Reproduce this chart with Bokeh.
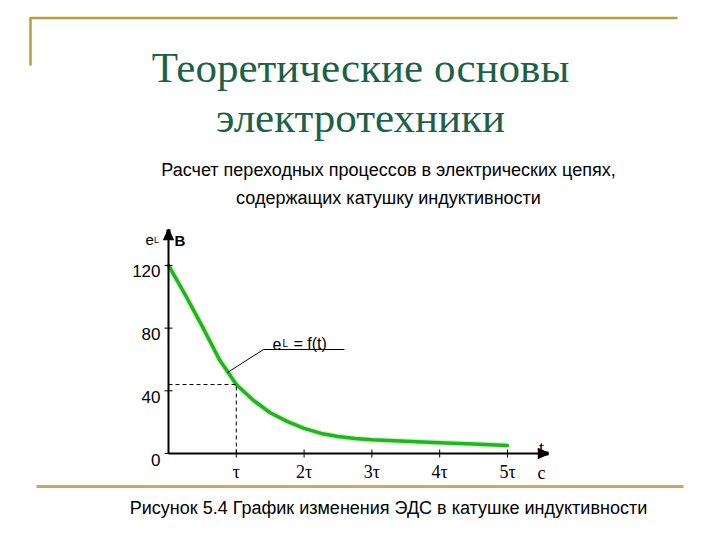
from bokeh.plotting import figure
from bokeh.models import Range1d
from bokeh.core.properties import value
from bokeh.embed import file_html
from bokeh.resources import INLINE

# ---------------- data ----------------
title_lines = ["Теоретические основы", "электротехники"]
subtitle_lines = ["Расчет переходных процессов в электрических цепях,",
                  "содержащих катушку индуктивности"]
caption = "Рисунок 5.4 График изменения ЭДС в катушке индуктивности"

# time in units of tau, EMF e_L in volts
t_tau = [0, 0.25, 0.5, 0.75, 1.0, 1.25, 1.5, 1.75, 2.0, 2.25, 2.5, 2.75, 3.0, 3.5, 4.0, 4.5, 5.0]
e_volts = [120, 101, 81, 60, 44, 34, 26, 20.5, 16, 12.8, 10.8, 9.6, 8.7, 7.8, 6.8, 6.0, 5.1]

y_ticks = [0, 40, 80, 120]
y_tick_labels = ["0", "40", "80", "120"]
x_ticks = [1, 2, 3, 4, 5]
x_tick_labels = ["τ", "2τ", "3τ", "4τ", "5τ"]

# ---------------- layout helpers (page pixels -> data units) ----------------
W, H = 704, 524
OX, OY = 0, 0
PX_T0, XS = 168.0, 67.8     # page x of t=0, pixels per tau
PY_E0, YS = 453.0, 1.567    # page y of e=0, pixels per volt


def X(px):
    return (px - PX_T0) / XS


def Y(py):
    return (PY_E0 - py) / YS


p = figure(width=W, height=H,
           x_range=Range1d(X(OX), X(OX + W)), y_range=Range1d(Y(OY + H), Y(OY)),
           output_backend="svg", toolbar_location=None, min_border=0,
           x_axis_type=None, y_axis_type=None, outline_line_color=None)
p.xgrid.visible = False
p.ygrid.visible = False

SANS = value("Liberation Sans")
SERIF = value("Liberation Serif")

# ---------------- slide decoration ----------------
gold = "#b3a03a"
p.line([X(30), X(677)], [Y(17.5), Y(17.5)], line_color=gold, line_width=2.5)
p.line([X(30), X(30)], [Y(16.5), Y(65)], line_color=gold, line_width=2.5)
p.line([X(36), X(683)], [Y(486), Y(486)], line_color="#c8a862", line_width=3)

p.text(x=[X(360), X(360)], y=[Y(67), Y(117)], text=title_lines,
       text_font=SERIF, text_font_size="43px", text_color="#1b6146",
       text_align="center", text_baseline="alphabetic")
p.text(x=[X(388), X(388)], y=[Y(169), Y(197)], text=subtitle_lines,
       text_font=SANS, text_font_size="18px", text_color="black",
       text_align="center", text_baseline="alphabetic")
p.text(x=[X(388)], y=[Y(507)], text=[caption],
       text_font=SANS, text_font_size="18px", text_color="black",
       text_align="center", text_baseline="alphabetic")

# ---------------- curve ----------------
p.line(t_tau, e_volts, line_color="#9fe28a", line_width=6, line_alpha=0.45, line_join="round")
p.line(t_tau, e_volts, line_color="#1fb51f", line_width=3.5, line_join="round", line_cap="round")

# dashed construction lines at t = tau
e_tau = e_volts[t_tau.index(1.0)]
p.line([0, 1], [e_tau, e_tau], line_color="black", line_width=1, line_dash="4 3")
p.line([1, 1], [0, e_tau], line_color="black", line_width=1, line_dash="4 3")

# ---------------- axes ----------------
x_tip, y_tip = X(548), Y(229)
hl, hw = 10, 4.5   # arrow head length / half width, px
p.line([0, x_tip - hl / XS], [0, 0], line_color="black", line_width=2)
p.line([0, 0], [0, y_tip - hl / YS], line_color="black", line_width=2)
head_xs = [[x_tip, x_tip - hl / XS, x_tip - hl / XS, x_tip],
           [0, -hw / XS, hw / XS, 0]]
head_ys = [[0, hw / YS, -hw / YS, 0],
           [y_tip, y_tip - hl / YS, y_tip - hl / YS, y_tip]]
p.patches(xs=head_xs, ys=head_ys, fill_color="black", line_color="black", line_width=1)
p.multi_line(xs=head_xs, ys=head_ys, line_color="black", line_width=1.5, line_join="miter")
p.multi_line(xs=[[x_tip, x_tip - hl / XS], [0, 0]],
             ys=[[0, 0], [y_tip, y_tip - hl / YS]],
             line_color="black", line_width=4)

ny, nx = len(y_ticks), len(x_ticks)
p.segment(x0=[-4 / XS] * ny, y0=y_ticks, x1=[4 / XS] * ny, y1=y_ticks,
          line_color="black", line_width=1)
p.segment(x0=x_ticks, y0=[-4 / YS] * nx, x1=x_ticks, y1=[4 / YS] * nx,
          line_color="black", line_width=1)

p.text(x=[-8 / XS] * ny, y=[v - 6 / YS for v in y_ticks], text=y_tick_labels,
       text_font=SANS, text_font_size="17px", text_color="black",
       text_align="right", text_baseline="alphabetic")
p.text(x=x_ticks, y=[-18 / YS] * nx, text=x_tick_labels,
       text_font=SERIF, text_font_size="18px", text_color="black",
       text_align="center", text_baseline="alphabetic")

# axis names
p.text(x=[X(541), X(541)], y=[Y(447), Y(472)], text=["t", "c"],
       text_font=SERIF, text_font_size="18px", text_color="black",
       text_align="center", text_baseline="alphabetic")
p.text(x=[X(145)], y=[Y(239)], text=["e"], text_font=SANS, text_font_size="15px",
       text_color="black", text_baseline="alphabetic")
p.text(x=[X(153.5)], y=[Y(239)], text=["L"], text_font=SANS, text_font_size="9px",
       text_color="black", text_baseline="alphabetic")
p.text(x=[X(174)], y=[Y(240)], text=["В"], text_font=SANS, text_font_size="15px",
       text_font_style="bold", text_color="black", text_baseline="alphabetic")

# curve label with leader line
p.line([X(227), X(263), X(344)], [Y(372), Y(349), Y(349)], line_color="black", line_width=1)
p.text(x=[X(272)], y=[Y(343)], text=["e"], text_font=SANS, text_font_size="16px",
       text_color="black", text_baseline="alphabetic")
p.text(x=[X(282)], y=[Y(343)], text=["L"], text_font=SANS, text_font_size="10px",
       text_color="black", text_baseline="alphabetic")
p.text(x=[X(293)], y=[Y(343)], text=["= f(t)"], text_font=SANS, text_font_size="16px",
       text_color="black", text_baseline="alphabetic")

open("out.html", "w").write(file_html(p, INLINE))
